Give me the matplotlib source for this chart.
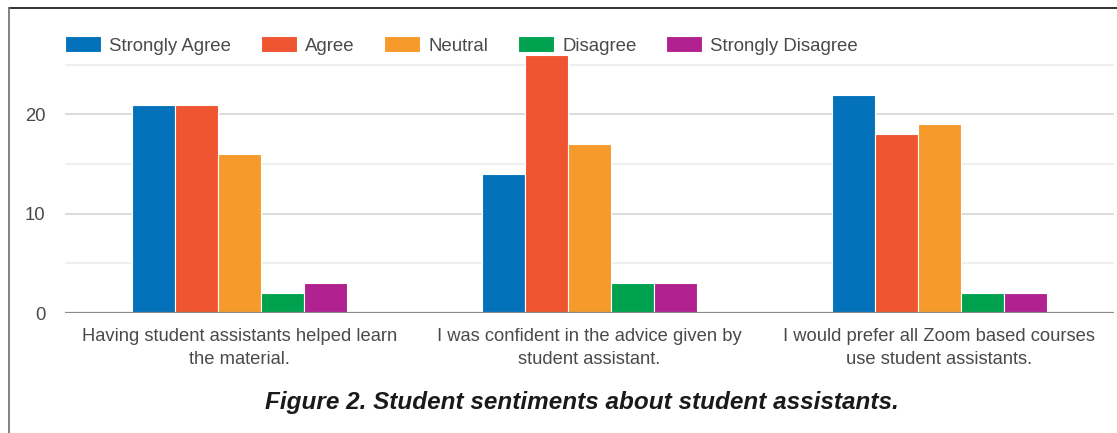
import numpy as np
import matplotlib
matplotlib.use('Agg')
import matplotlib.pyplot as plt
from matplotlib.lines import Line2D

plt.rcParams['font.family'] = ['Liberation Sans', 'DejaVu Sans']

categories = ['Having student assistants helped learn\nthe material.',
              'I was confident in the advice given by\nstudent assistant.',
              'I would prefer all Zoom based courses\nuse student assistants.']
series = ['Strongly Agree', 'Agree', 'Neutral', 'Disagree', 'Strongly Disagree']
strongly_agree = [21, 14, 22]
agree = [21, 26, 18]
neutral = [16, 17, 19]
disagree = [2, 3, 2]
strongly_disagree = [3, 3, 2]
values = [strongly_agree, agree, neutral, disagree, strongly_disagree]
colors = ['#0472bb', '#ee5530', '#f69a2c', '#00a24f', '#b12290']
title = 'Figure 2. Student sentiments about student assistants.'

fig = plt.figure(figsize=(11.17, 4.33), dpi=100)
ax = fig.add_axes([65/1117, 1-313/433, (1114-65)/1117, (313-45)/433])

x = np.arange(len(categories))
w = 0.123
for i, (name, vals) in enumerate(zip(series, values)):
    ax.bar(x + (i-2)*w, vals, w, color=colors[i], label=name,
           edgecolor='white', linewidth=0.8, zorder=3)

ax.set_xlim(-0.5, 2.5)
ax.set_ylim(0, 27)
ax.set_yticks([0, 10, 20])
ax.set_yticks([5, 15, 25], minor=True)
ax.grid(axis='y', which='major', color='#d6d6d6', linewidth=1.2, zorder=0)
ax.grid(axis='y', which='minor', color='#ececec', linewidth=1.2, zorder=0)
ax.axhline(0, color='#8a8a8a', linewidth=1.6, zorder=4)
for s in ax.spines.values():
    s.set_visible(False)
ax.tick_params(axis='y', which='both', length=0, pad=14, labelsize=13.3, labelcolor='#4a4a4a')
ax.tick_params(axis='x', length=0, pad=11, labelsize=13.2, labelcolor='#4a4a4a')
ax.set_xticks(x)
ax.set_xticklabels(categories, linespacing=1.45)

fig.legend(loc='center left', bbox_to_anchor=(65/1117, 1-45.5/433), ncol=5,
           frameon=False, fontsize=13.4, handlelength=1.93, handleheight=0.91,
           handletextpad=0.43, columnspacing=1.61, borderpad=0, borderaxespad=0,
           labelcolor='#4a4a4a')

fig.text(582/1117, 1-402/433, title, ha='center', va='center',
         fontsize=17.5, fontweight='bold', fontstyle='italic', color='#1a1a1a')

# outer frame (top and left only visible)
fig.add_artist(Line2D([9/1117, 1], [1-8/433, 1-8/433], transform=fig.transFigure,
                      color='#222222', linewidth=1.3))
fig.add_artist(Line2D([9/1117, 9/1117], [0, 1-8/433], transform=fig.transFigure,
                      color='#777777', linewidth=1.3))

fig.savefig('out.png', dpi=100)
